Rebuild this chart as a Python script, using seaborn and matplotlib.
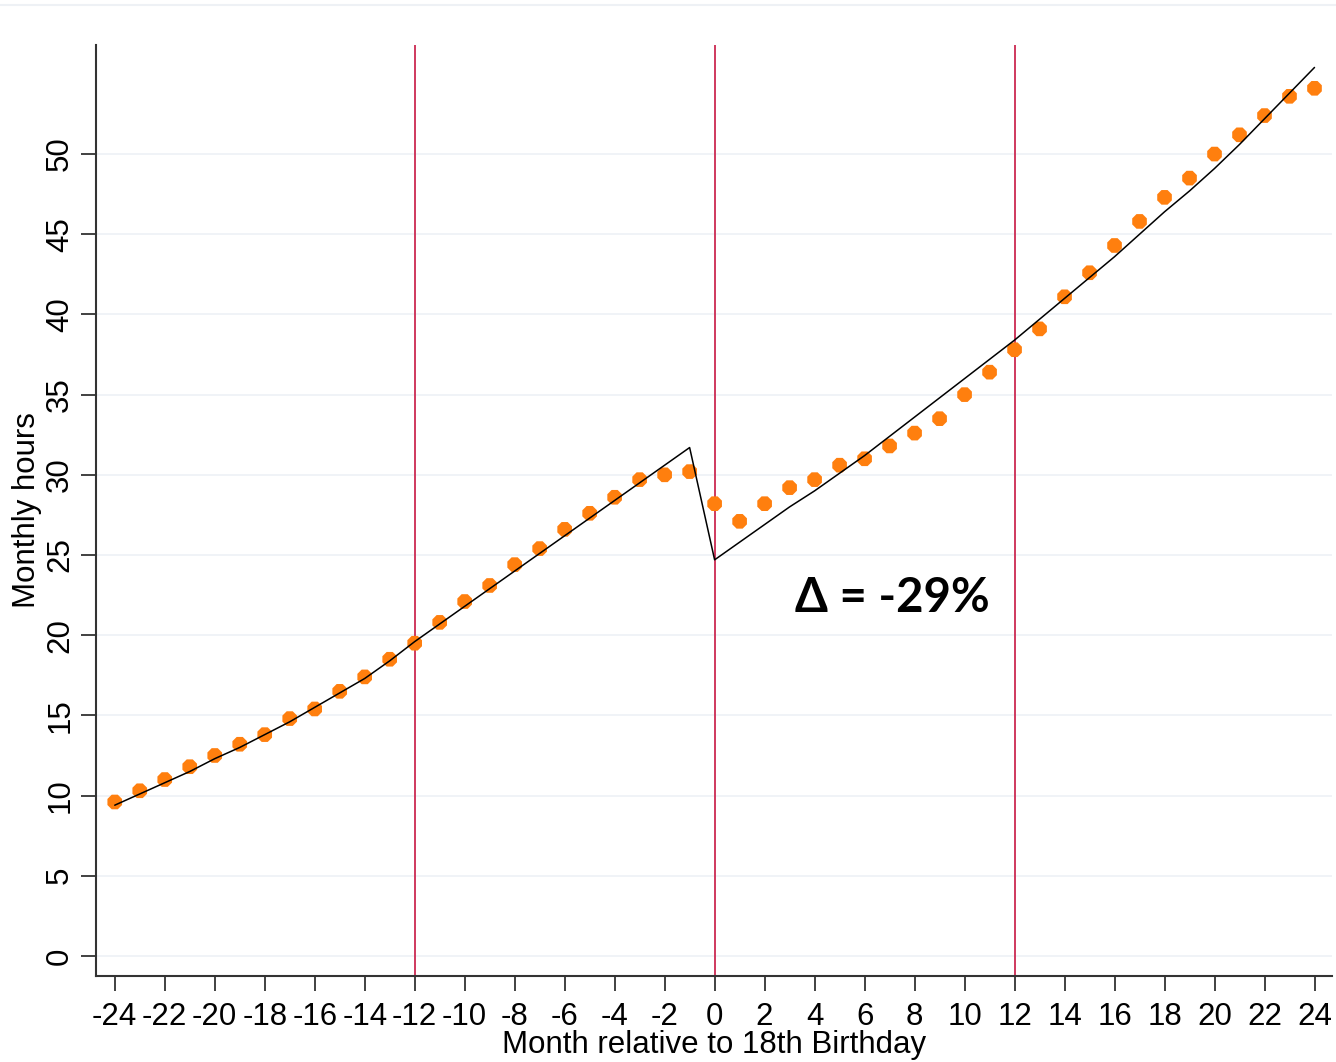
import pandas as pd
import matplotlib.pyplot as plt
from matplotlib.lines import Line2D
import seaborn as sns

sns.set_style("white")
plt.rcParams['font.family'] = ['Liberation Sans', 'DejaVu Sans']
plt.rcParams['axes.unicode_minus'] = False
plt.rcParams['text.color'] = 'black'
plt.rcParams['axes.labelcolor'] = 'black'

# data
months = list(range(-24, 25))
hours_obs = [9.6, 10.3, 11.0, 11.8, 12.5, 13.2, 13.8, 14.8, 15.4, 16.5, 17.4, 18.5,
             19.5, 20.8, 22.1, 23.1, 24.4, 25.4, 26.6, 27.6, 28.6, 29.7, 30.0, 30.2,
             28.2, 27.1, 28.2, 29.2, 29.7, 30.6, 31.0, 31.8, 32.6, 33.5, 35.0, 36.4,
             37.8, 39.1, 41.1, 42.6, 44.3, 45.8, 47.3, 48.5, 50.0, 51.2, 52.4, 53.6, 54.1]
hours_fit = [9.4, 10.1, 10.8, 11.5, 12.3, 13.0, 13.8, 14.6, 15.5, 16.4, 17.3, 18.4,
             19.6, 20.7, 21.8, 22.9, 24.0, 25.1, 26.2, 27.3, 28.4, 29.5, 30.6, 31.7,
             24.7, 25.8, 26.9, 28.0, 29.0, 30.1, 31.2, 32.4, 33.6, 34.8, 36.0, 37.2,
             38.4, 39.7, 41.0, 42.3, 43.6, 45.0, 46.4, 47.7, 49.1, 50.6, 52.2, 53.8, 55.4]
cutoffs = [-12, 0, 12]
xticks = list(range(-24, 25, 2))
yticks = list(range(0, 51, 5))
annotation = "\u0394 = -29%"

df = pd.DataFrame({"month": months, "obs": hours_obs, "fit": hours_fit})

fig = plt.figure(figsize=(13.36, 10.62), dpi=100)
ax = fig.add_axes([96 / 1336, 86 / 1062, (1332 - 96) / 1336, (976 - 45) / 1062])

for c in cutoffs:
    ax.axvline(c, color="#cc2a52", lw=1.3, zorder=1)

sns.scatterplot(data=df, x="month", y="obs", ax=ax, color="#ff7f0e", s=130,
                marker="8", edgecolor="none", zorder=3)
sns.lineplot(data=df, x="month", y="fit", ax=ax, color="black", lw=1.1, zorder=4)

ax.set_xlim(-24.75, 24.7)
ax.set_ylim(-1.25, 56.8)
ax.set_xticks(xticks)
ax.set_yticks(yticks)
ax.yaxis.grid(True, color="#edf1f6", lw=1.2)
ax.set_axisbelow(True)

for side in ["top", "right"]:
    ax.spines[side].set_visible(False)
for side in ["left", "bottom"]:
    ax.spines[side].set_color("#333333")
    ax.spines[side].set_linewidth(1.5)

ax.tick_params(axis="both", which="major", labelsize=22.5, length=11, width=1.3,
               color="#333333", labelcolor="black", pad=4, direction="out",
               bottom=True, left=True)
ax.tick_params(axis="x", pad=8)
ax.tick_params(axis="y", labelrotation=90)
for lbl in ax.get_yticklabels():
    lbl.set_va("center")

ax.set_xlabel("Month relative to 18th Birthday", fontsize=22.5, labelpad=-2)
ax.set_ylabel("Monthly hours", fontsize=22.5, labelpad=2)

ax.text(3.2, 22.3, annotation, fontsize=34, fontweight="bold", color="black",
        family=["Lato", "DejaVu Sans"], ha="left", va="center")

fig.add_artist(Line2D([0, 1], [1057 / 1062, 1057 / 1062], color="#eef1f5", lw=1.5,
                      transform=fig.transFigure))

fig.savefig("out.png", dpi=100)
